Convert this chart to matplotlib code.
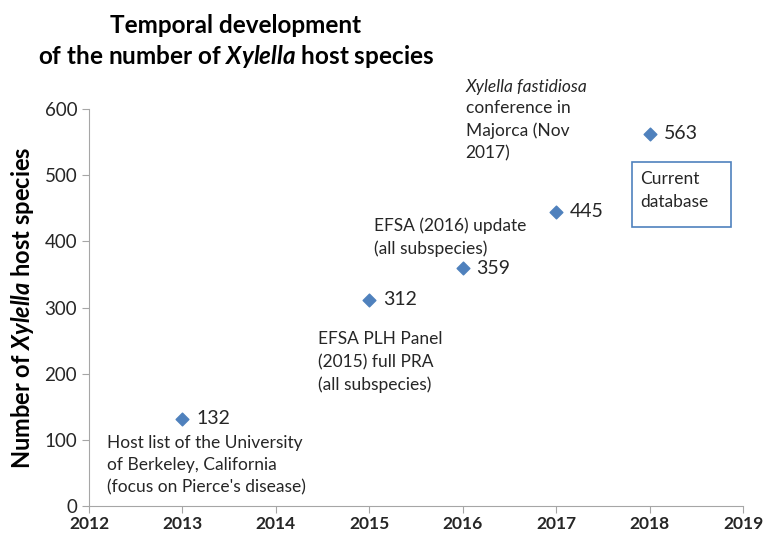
import matplotlib.pyplot as plt
from matplotlib.patches import Rectangle

plt.rcParams["font.family"] = ["Lato", "DejaVu Sans"]
plt.rcParams["mathtext.fontset"] = "custom"
plt.rcParams["mathtext.rm"] = "Lato:bold"
plt.rcParams["mathtext.bf"] = "Lato:bold"
plt.rcParams["mathtext.it"] = "Lato:bold:italic"

# data
years = [2013, 2015, 2016, 2017, 2018]
host_counts = [132, 312, 359, 445, 563]
xticks = [2012, 2013, 2014, 2015, 2016, 2017, 2018, 2019]
yticks = [0, 100, 200, 300, 400, 500, 600]

blue = "#4F81BD"
axis_grey = "#A6A6A6"
text_col = "#262626"

fig = plt.figure(figsize=(7.63, 5.36), dpi=100)
ax = fig.add_axes([0.1166, 0.056, 0.8572, 0.7406])

ax.scatter(years, host_counts, marker="D", s=42, color=blue, zorder=3)
for x, y in zip(years, host_counts):
    ax.annotate(str(y), (x, y), xytext=(10, 0), textcoords="offset points",
                va="center", ha="left", fontsize=14, color=text_col)

ax.set_xlim(2012, 2019)
ax.set_ylim(0, 600)
ax.set_xticks(xticks)
ax.set_yticks(yticks)
ax.set_xticklabels([str(t) for t in xticks], fontweight="bold", fontsize=12.5)
ax.set_yticklabels([str(t) for t in yticks], fontsize=13.5)
for s in ("top", "right"):
    ax.spines[s].set_visible(False)
for s in ("left", "bottom"):
    ax.spines[s].set_color(axis_grey)
ax.tick_params(colors=axis_grey, labelcolor=text_col, length=5, direction="out")
ax.tick_params(axis="x", pad=2.5)
ax.set_ylabel(r"Number of $\mathit{Xylella}$ host species",
              fontsize=17, fontweight="bold", color="black", labelpad=6)

fig.text(0.309, 0.953, "Temporal development", ha="center", va="center",
         fontsize=17.5, fontweight="bold")
fig.text(0.309, 0.895, r"of the number of $\mathit{Xylella}$ host species",
         ha="center", va="center", fontsize=17.5, fontweight="bold")

note_kw = dict(fontsize=12.5, color=text_col, va="top", ha="left", linespacing=1.5)
ax.text(2012.19, 108, "Host list of the University\nof Berkeley, California\n(focus on Pierce's disease)", **note_kw)
ax.text(2014.45, 264, "EFSA PLH Panel\n(2015) full PRA\n(all subspecies)", **note_kw)
ax.text(2015.05, 436, "EFSA (2016) update\n(all subspecies)", **note_kw)
ax.text(2016.03, 634, "Xylella fastidiosa", fontsize=12.5, color=text_col,
        va="center", ha="left", style="italic")
ax.text(2016.03, 614, "conference in\nMajorca (Nov\n2017)", **note_kw)

box = Rectangle((2017.81, 421.6), 1.06, 98.4, transform=ax.transData,
                fill=False, edgecolor=blue, linewidth=1.2, clip_on=False)
ax.add_patch(box)
ax.text(2017.90, 506, "Current\ndatabase", **note_kw)

fig.savefig("out.png", dpi=100)
